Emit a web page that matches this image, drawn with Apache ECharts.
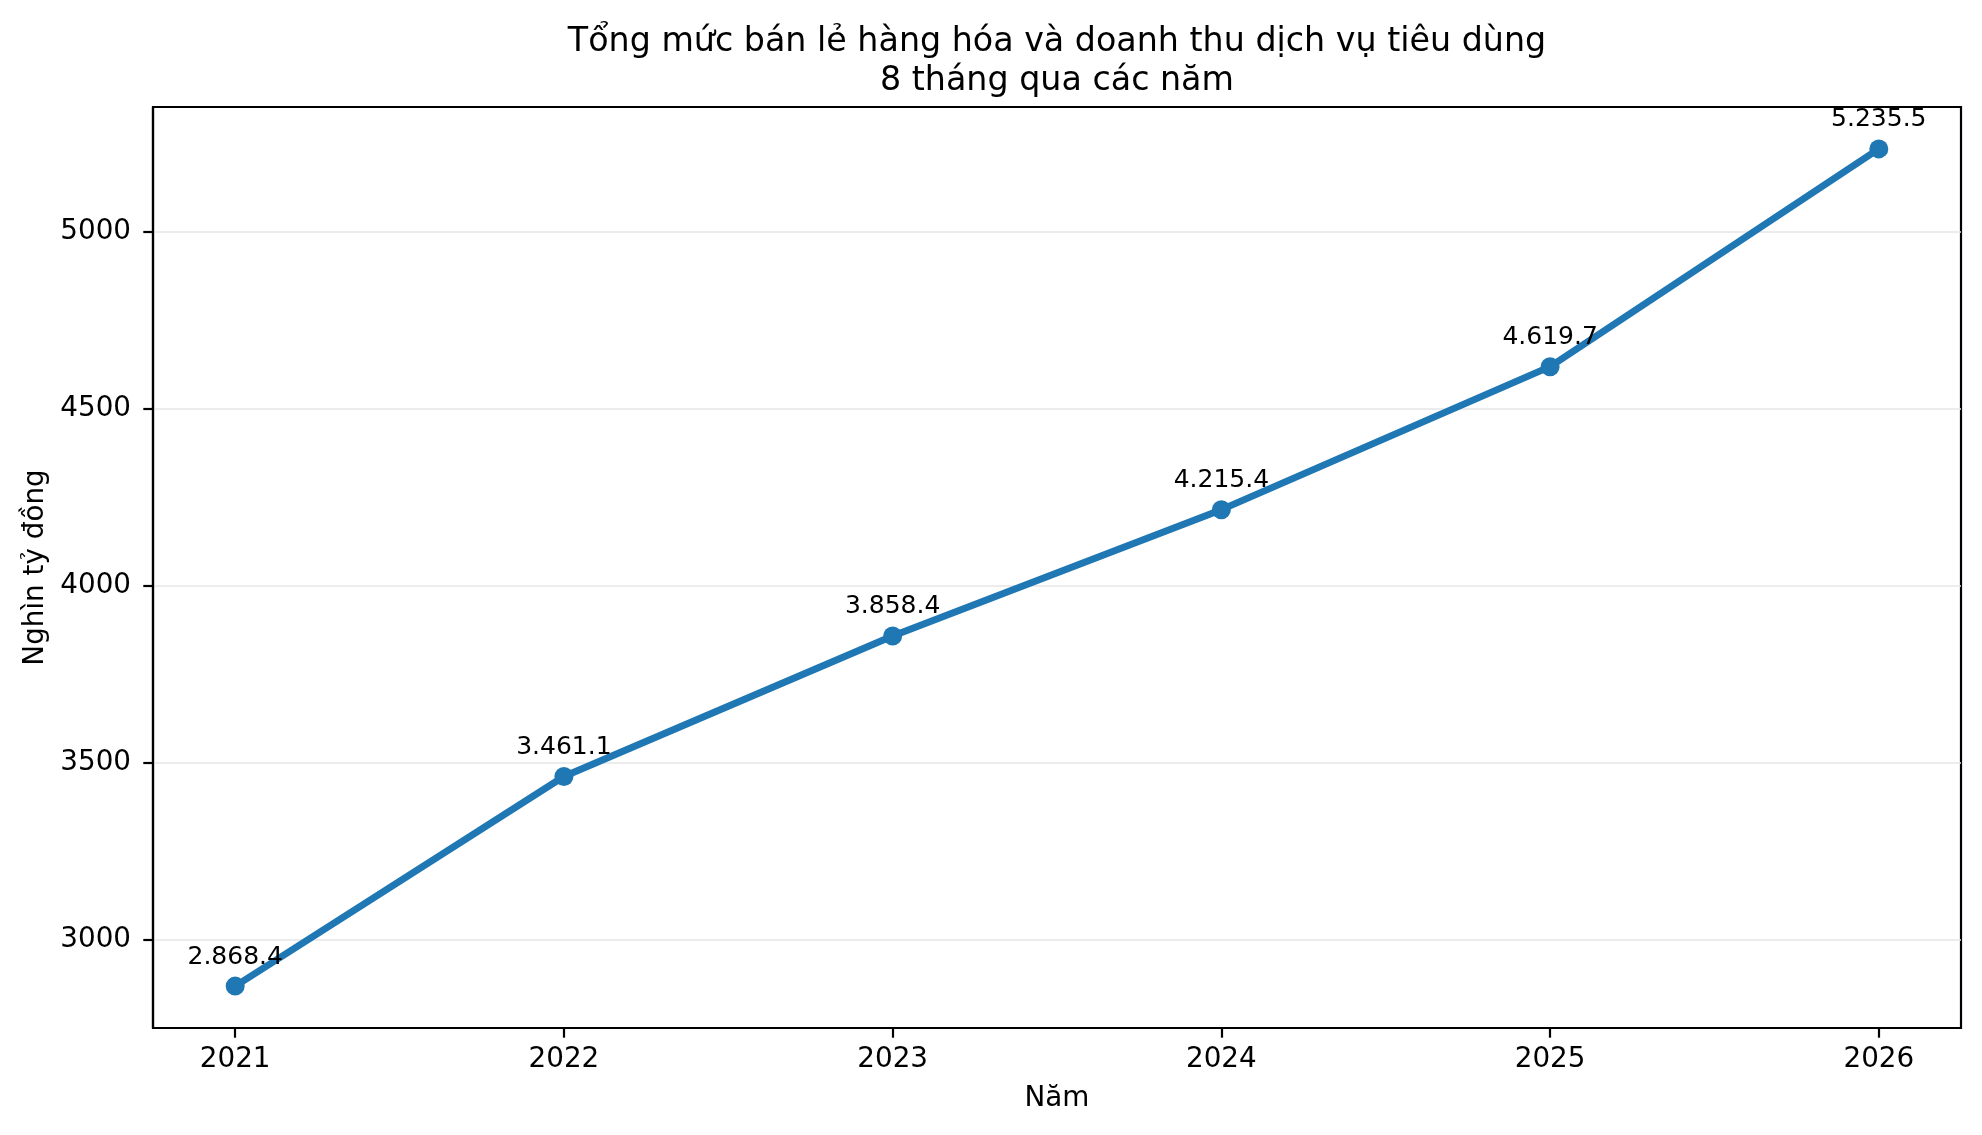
<!DOCTYPE html>
<html>
<head>
<meta charset="utf-8">
<script src="https://cdn.jsdelivr.net/npm/echarts@6/dist/echarts.min.js"></script>
<style>
html,body{margin:0;padding:0;background:#fff;}
#chart{width:1982px;height:1135px;}
</style>
</head>
<body>
<div id="chart"></div>
<script>
const titleLines = ['Tổng mức bán lẻ hàng hóa và doanh thu dịch vụ tiêu dùng', '8 tháng qua các năm'];
const years = [2021, 2022, 2023, 2024, 2025, 2026];
const values = [2868.4, 3461.1, 3858.4, 4215.4, 4619.7, 5235.5];
const yTicks = [3000, 3500, 4000, 4500, 5000];
const xName = 'Năm';
const yName = 'Nghìn tỷ đồng';

const FONT = 'DejaVu Sans';
function fmt(v) {
  const parts = v.toFixed(1).split('.');
  return parts[0].replace(/\B(?=(\d{3})+(?!\d))/g, '.') + '.' + parts[1];
}
const xMin = 2020.75, xMax = 2026.25;
const yMin = 2750, yMax = 5353.9;

const chart = echarts.init(document.getElementById('chart'));
chart.setOption({
  animation: false,
  backgroundColor: '#fff',
  graphic: [{
    type: 'text',
    x: 1057, y: 22.5,
    style: {
      text: titleLines.join('\n'),
      font: '33.3px "DejaVu Sans"',
      fill: '#000',
      align: 'center',
      textAlign: 'center',
      lineHeight: 39
    }
  }],
  grid: {
    left: 153, right: 21, top: 107, bottom: 107,
    show: true, borderColor: '#000', borderWidth: 2.2, backgroundColor: 'transparent'
  },
  xAxis: {
    type: 'value', min: xMin, max: xMax,
    name: xName, nameLocation: 'middle', nameGap: 57,
    nameTextStyle: {fontFamily: FONT, fontSize: 27.8, color: '#000'},
    axisLine: {show: true, lineStyle: {color: '#000', width: 2.2}},
    axisTick: {show: true, inside: false, length: 9.7, lineStyle: {color: '#000', width: 2.2}, customValues: years},
    axisLabel: {customValues: years, fontFamily: FONT, fontSize: 27.8, color: '#000', margin: 18, formatter: v => String(Math.round(v))},
    splitLine: {show: false}
  },
  yAxis: {
    type: 'value', min: yMin, max: yMax,
    name: yName, nameLocation: 'middle', nameGap: 95, nameRotate: 90,
    nameTextStyle: {fontFamily: FONT, fontSize: 27.8, color: '#000'},
    axisLine: {show: true, lineStyle: {color: '#000', width: 2.2}},
    axisTick: {show: true, inside: false, length: 9.7, lineStyle: {color: '#000', width: 2.2}, customValues: yTicks},
    axisLabel: {customValues: yTicks, fontFamily: FONT, fontSize: 27.8, color: '#000', margin: 22, formatter: v => String(v)},
    splitLine: {show: true, lineStyle: {color: '#e6e6e6', width: 1.6}}
  },
  series: [{
    type: 'line',
    data: years.map((y, i) => [y, values[i]]),
    symbol: 'circle', symbolSize: 19,
    lineStyle: {color: '#1f77b4', width: 6.9},
    itemStyle: {color: '#1f77b4'},
    label: {
      show: true, position: 'top', distance: 7,
      fontFamily: FONT, fontSize: 25, color: '#000',
      formatter: p => fmt(p.value[1])
    },
    z: 3
  }]
});
</script>
</body>
</html>
